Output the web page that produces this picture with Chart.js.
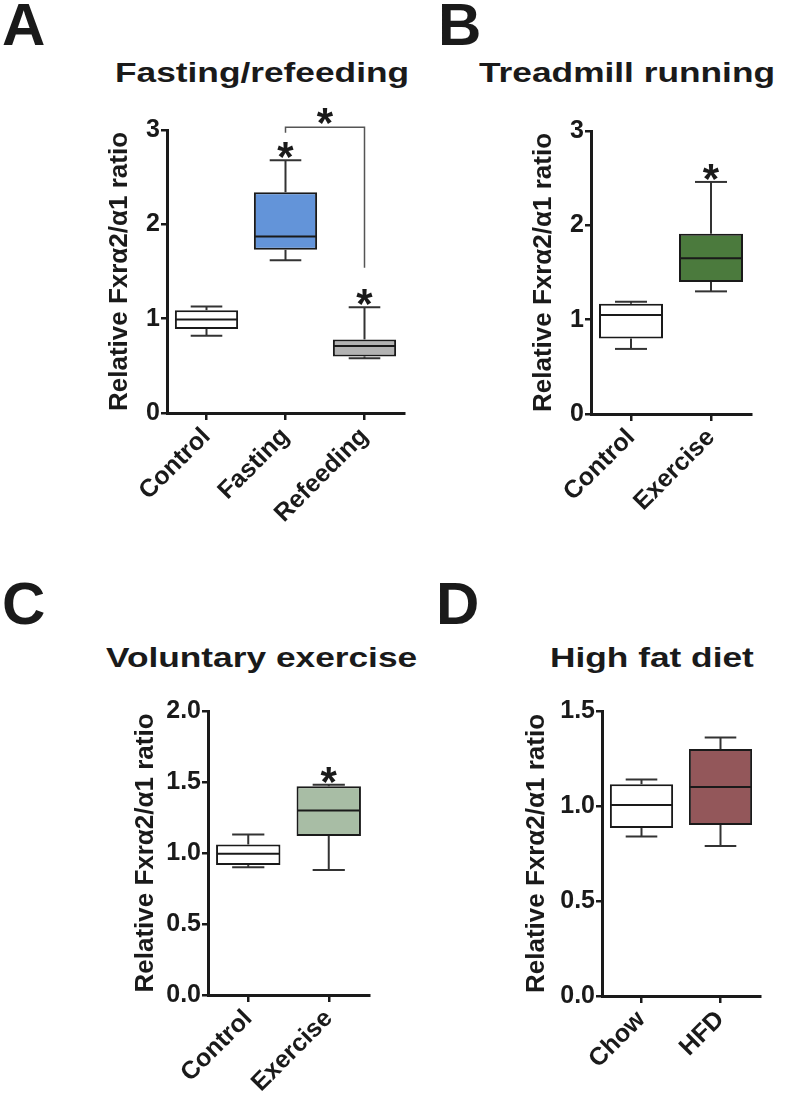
<!DOCTYPE html>
<html>
<head>
<meta charset="utf-8">
<script src="https://cdn.jsdelivr.net/npm/chart.js@4"></script>
<style>
  body { margin: 0; background: #fff; width: 787px; height: 1100px; position: relative; overflow: hidden;
         font-family: 'Liberation Sans', Arial, sans-serif; color: #1a1a1a; }
  .letter { position: absolute; font-weight: bold; font-size: 60px; line-height: 1; }
  .title { position: absolute; font-weight: bold; font-size: 28px; line-height: 1; white-space: nowrap;
           transform: scaleX(1.26); transform-origin: 0 0; }
  canvas { position: absolute; }
</style>
</head>
<body>
<div class="letter" style="left:2px;top:-5px">A</div>
<div class="letter" style="left:438px;top:-5px">B</div>
<div class="letter" style="left:2px;top:574px">C</div>
<div class="letter" style="left:436px;top:574px">D</div>

<div class="title" style="left:115px;top:59px">Fasting/refeeding</div>
<div class="title" style="left:479px;top:59px">Treadmill running</div>
<div class="title" style="left:106px;top:644px">Voluntary exercise</div>
<div class="title" style="left:550px;top:644px">High fat diet</div>

<canvas id="chartA" width="310" height="438" style="left:104px;top:95px"></canvas>
<canvas id="chartB" width="233" height="439" style="left:528px;top:95px"></canvas>
<canvas id="chartC" width="249" height="415" style="left:130px;top:680px"></canvas>
<canvas id="chartD" width="249" height="416" style="left:521px;top:680px"></canvas>

<script>
const FONT = "'Liberation Sans', Arial, sans-serif";
const yTitle = 'Relative Fxrα2/α1 ratio';

// A: fasting / refeeding
const fastCats = ['Control', 'Fasting', 'Refeeding'];
const fastMin = [0.82, 1.62, 0.58];
const fastQ1 = [0.89, 1.73, 0.60];
const fastMed = [0.99, 1.87, 0.71];
const fastQ3 = [1.09, 2.34, 0.78];
const fastMax = [1.13, 2.68, 1.12];
const fastStars = [false, true, true];
const fastTicks = [0, 1, 2, 3];
const fastBracket = { from: 1, to: 2, top: 3.03, leftEnd: 2.97, rightEnd: 1.54 };

// B: treadmill running
const runCats = ['Control', 'Exercise'];
const runMin = [0.69, 1.30];
const runQ1 = [0.80, 1.40];
const runMed = [1.05, 1.65];
const runQ3 = [1.17, 1.91];
const runMax = [1.19, 2.46];
const runStars = [false, true];
const runTicks = [0, 1, 2, 3];

// C: voluntary exercise
const volCats = ['Control', 'Exercise'];
const volMin = [0.90, 0.88];
const volQ1 = [0.915, 1.12];
const volMed = [0.995, 1.30];
const volQ3 = [1.06, 1.47];
const volMax = [1.13, 1.48];
const volStars = [false, true];
const volTicks = [0, 0.5, 1.0, 1.5, 2.0];

// D: high fat diet
const hfdCats = ['Chow', 'HFD'];
const hfdMin = [0.84, 0.79];
const hfdQ1 = [0.884, 0.90];
const hfdMed = [1.005, 1.10];
const hfdQ3 = [1.115, 1.30];
const hfdMax = [1.14, 1.36];
const hfdStars = [false, false];
const hfdTicks = [0, 0.5, 1.0, 1.5];

// whiskers, medians, stars and the bracket, placed through the y scale
const boxPlot = {
  id: 'boxPlot',
  afterDatasetsDraw(chart, args, opts) {
    const { ctx } = chart;
    const y = chart.scales.y;
    const bars = chart.getDatasetMeta(0).data;
    const line = (x1, y1, x2, y2) => { ctx.beginPath(); ctx.moveTo(x1, y1); ctx.lineTo(x2, y2); ctx.stroke(); };
    const star = (x, cy) => {
      ctx.fillStyle = '#1a1a1a';
      ctx.font = 'bold 42px ' + FONT;
      ctx.textAlign = 'center';
      ctx.textBaseline = 'alphabetic';
      ctx.fillText('*', x, cy + 24);
    };
    ctx.save();
    bars.forEach((bar, i) => {
      const { x, width } = bar.getProps(['x', 'width'], true);
      const cap = width / 4;
      const pMin = y.getPixelForValue(opts.min[i]);
      const pMax = y.getPixelForValue(opts.max[i]);
      const pQ1 = y.getPixelForValue(opts.q1[i]);
      const pQ3 = y.getPixelForValue(opts.q3[i]);
      const pMed = y.getPixelForValue(opts.med[i]);
      ctx.strokeStyle = '#333';
      ctx.lineWidth = 2;
      line(x, pQ3, x, pMax);
      line(x - cap, pMax, x + cap, pMax);
      line(x, pQ1, x, pMin);
      line(x - cap, pMin, x + cap, pMin);
      ctx.strokeStyle = '#1a1a1a';
      line(x - width / 2 + 1, pMed, x + width / 2 - 1, pMed);
      if (opts.stars[i]) star(x, pMax - 13);
    });
    const b = opts.bracket;
    if (b) {
      const x1 = bars[b.from].x, x2 = bars[b.to].x;
      const top = y.getPixelForValue(b.top);
      ctx.strokeStyle = '#555';
      ctx.lineWidth = 1.5;
      ctx.beginPath();
      ctx.moveTo(x1, y.getPixelForValue(b.leftEnd));
      ctx.lineTo(x1, top);
      ctx.lineTo(x2, top);
      ctx.lineTo(x2, y.getPixelForValue(b.rightEnd));
      ctx.stroke();
      star((x1 + x2) / 2, top - 14);
    }
    ctx.restore();
  }
};

function makeBox(id, cats, min, q1, med, q3, max, colors, stars, ticks, decimals, box, bracket) {
  return new Chart(document.getElementById(id), {
    type: 'bar',
    data: {
      labels: cats,
      datasets: [{
        data: cats.map((_, i) => [q1[i], q3[i]]),
        backgroundColor: colors,
        borderColor: '#1a1a1a',
        borderWidth: 2,
        borderSkipped: false,
        barPercentage: 0.8,
        categoryPercentage: 1,
      }],
    },
    options: {
      responsive: false,
      animation: false,
      layout: { padding: { top: box.padTop, right: 10, left: 0, bottom: 0 } },
      plugins: {
        legend: { display: false },
        tooltip: { enabled: false },
        boxPlot: { min, q1, med, q3, max, stars, bracket },
      },
      scales: {
        x: {
          grid: { display: true, drawOnChartArea: false, offset: false, color: '#1a1a1a', lineWidth: 2.5, tickLength: 7 },
          border: { color: '#1a1a1a', width: 3 },
          ticks: { color: '#1a1a1a', font: { family: FONT, size: 25, weight: 'bold' },
                   minRotation: 45, maxRotation: 45, autoSkip: false, padding: 2 },
          afterFit: s => { s.height = box.xHeight; },
        },
        y: {
          min: ticks[0],
          max: ticks[ticks.length - 1],
          afterBuildTicks: s => { s.ticks = ticks.map(v => ({ value: v })); },
          grid: { display: true, drawOnChartArea: false, color: '#1a1a1a', lineWidth: 2.5, tickLength: 6 },
          border: { color: '#1a1a1a', width: 3 },
          ticks: { color: '#1a1a1a', font: { family: FONT, size: 25, weight: 'bold' }, padding: 1,
                   callback: v => v.toFixed(decimals) },
          title: { display: true, text: yTitle, color: '#1a1a1a', padding: 0,
                   font: { family: FONT, size: 26, weight: 'bold' } },
          afterFit: s => { s.width = box.yWidth; },
        },
      },
    },
    plugins: [boxPlot],
  });
}

makeBox('chartA', fastCats, fastMin, fastQ1, fastMed, fastQ3, fastMax,
  ['#ffffff', '#6394d9', '#b3b3b3'], fastStars, fastTicks, 0,
  { padTop: 35, xHeight: 120, yWidth: 63 }, fastBracket);

makeBox('chartB', runCats, runMin, runQ1, runMed, runQ3, runMax,
  ['#ffffff', '#4b7a3d'], runStars, runTicks, 0,
  { padTop: 36, xHeight: 120, yWidth: 63 });

makeBox('chartC', volCats, volMin, volQ1, volMed, volQ3, volMax,
  ['#ffffff', '#a8bda5'], volStars, volTicks, 1,
  { padTop: 31, xHeight: 100, yWidth: 78 });

makeBox('chartD', hfdCats, hfdMin, hfdQ1, hfdMed, hfdQ3, hfdMax,
  ['#ffffff', '#93575a'], hfdStars, hfdTicks, 1,
  { padTop: 31, xHeight: 100, yWidth: 81 });
</script>
</body>
</html>
